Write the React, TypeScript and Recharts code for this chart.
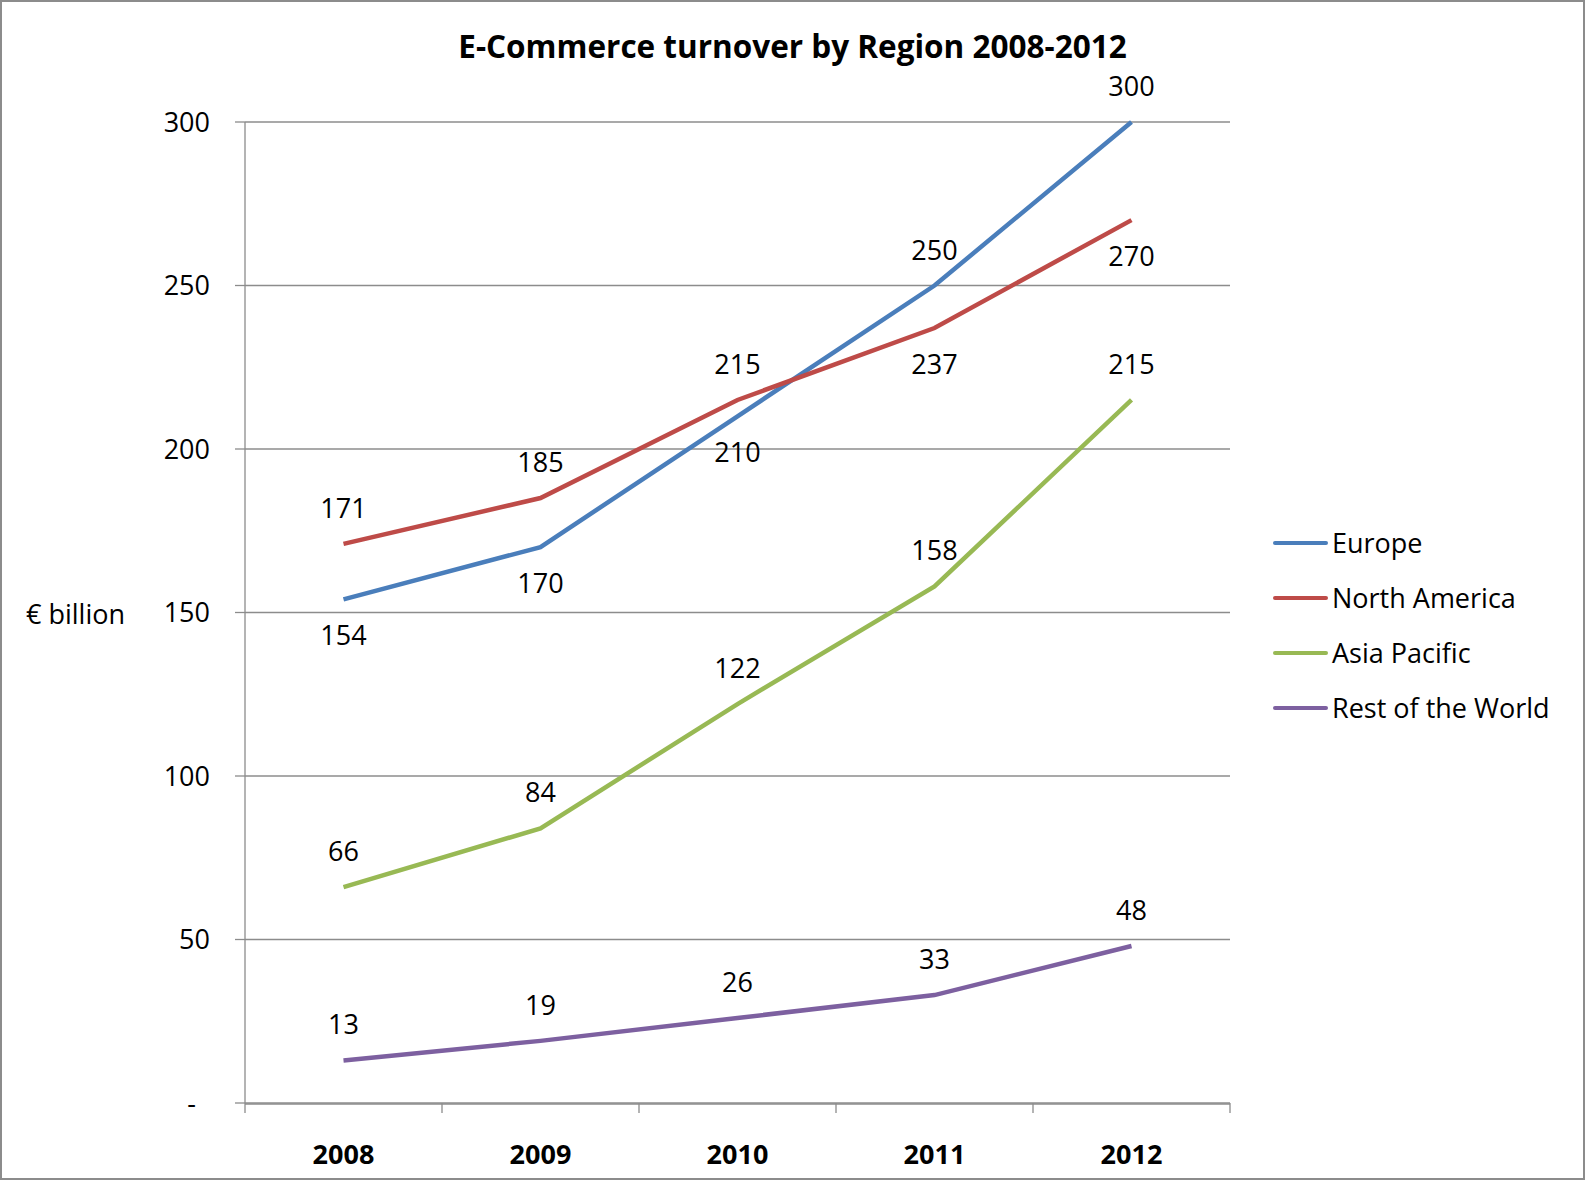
import { LineChart, Line, XAxis, YAxis, CartesianGrid, Legend, Label } from 'recharts';

const years = ['2008', '2009', '2010', '2011', '2012'];
const europe = [154, 170, 210, 250, 300];
const northAmerica = [171, 185, 215, 237, 270];
const asiaPacific = [66, 84, 122, 158, 215];
const restOfWorld = [13, 19, 26, 33, 48];
const yTicks = [0, 50, 100, 150, 200, 250, 300];
const bandEdges = [0, 1, 2, 3, 4, 5];

const data = years.map((year, i) => ({
  year,
  slot: i + 0.5, // middle of the year's band, used by the tick-mark axis
  europe: europe[i],
  northAmerica: northAmerica[i],
  asiaPacific: asiaPacific[i],
  restOfWorld: restOfWorld[i],
}));

const FONT = '"Open Sans", "Noto Sans", sans-serif';
const GREY = '#8c8c8c';

const series = [
  { key: 'europe', name: 'Europe', color: '#4A7EBB' },
  { key: 'northAmerica', name: 'North America', color: '#BE4B48' },
  { key: 'asiaPacific', name: 'Asia Pacific', color: '#98B954' },
  { key: 'restOfWorld', name: 'Rest of the World', color: '#7D60A0' },
];

// which points get their value label under the line (Excel put them there)
const labelsBelow: Record<string, number[]> = {
  europe: [0, 1, 2],
  northAmerica: [3, 4],
  asiaPacific: [],
  restOfWorld: [],
};

const valueLabel = (key: string) => (props: any) => {
  const { x, y, value, index } = props;
  const below = labelsBelow[key].includes(index);
  return (
    <text
      x={x}
      y={below ? y + 46 : y - 26}
      textAnchor="middle"
      fontFamily={FONT}
      fontSize={27}
      fill="#000"
    >
      {value}
    </text>
  );
};

function LegendBox({ payload }: any) {
  // recharts sorts legend items by name, keep the series order instead
  const order = series.map((s) => s.name);
  const items = [...(payload || [])].sort(
    (a: any, b: any) => order.indexOf(a.value) - order.indexOf(b.value)
  );
  return (
    <div style={{ display: 'flex', flexDirection: 'column' }}>
      {items.map((p: any) => (
        <div key={p.value} style={{ height: 55, display: 'flex', alignItems: 'center' }}>
          <span
            style={{ width: 55, height: 4, background: p.color, borderRadius: 2, marginRight: 4 }}
          />
          <span style={{ fontFamily: FONT, fontSize: 27, color: '#000', whiteSpace: 'nowrap' }}>
            {p.value}
          </span>
        </div>
      ))}
    </div>
  );
}

export default function App() {
  return (
    <div
      style={{
        position: 'absolute',
        left: 0,
        top: 0,
        width: 1585,
        height: 1180,
        boxSizing: 'border-box',
        border: `2px solid ${GREY}`,
        background: '#fff',
      }}
    >
      <div
        style={{
          position: 'absolute',
          left: 0,
          top: 24,
          width: 1581,
          height: 40,
          lineHeight: '40px',
          textAlign: 'center',
          fontFamily: FONT,
          fontWeight: 700,
          fontSize: 31.5,
          color: '#000',
        }}
      >
        E-Commerce turnover by Region 2008-2012
      </div>
      <LineChart
        width={1581}
        height={1176}
        data={data}
        margin={{ top: 120, right: 353, bottom: 73, left: 14 }}
      >
        <CartesianGrid vertical={false} stroke={GREY} strokeWidth={1.3} />
        {/* tick marks sit between the years, as in Excel */}
        <XAxis
          xAxisId="edges"
          dataKey="slot"
          type="number"
          domain={[0, 5]}
          allowDataOverflow
          ticks={bandEdges}
          height={1}
          axisLine={false}
          tickSize={10}
          tickLine={{ stroke: GREY, strokeWidth: 1.3 }}
          tickFormatter={() => ''}
        />
        <XAxis
          xAxisId="years"
          dataKey="year"
          scale="band"
          height={1}
          axisLine={{ stroke: GREY, strokeWidth: 1.3 }}
          tickLine={false}
          tickSize={0}
          tickMargin={41}
          tick={{ fontFamily: FONT, fontSize: 27, fontWeight: 700, fill: '#000' }}
        />
        <YAxis
          domain={[0, 300]}
          ticks={yTicks}
          width={229}
          axisLine={{ stroke: GREY, strokeWidth: 1.3 }}
          tickLine={{ stroke: GREY, strokeWidth: 1.3 }}
          tickSize={10}
          tickMargin={25}
          tick={{ fontFamily: FONT, fontSize: 27, fill: '#000' }}
          tickFormatter={(v) => (v === 0 ? '-\u00a0\u00a0' : String(v))}
        >
          <Label
            value="€ billion"
            position="insideLeft"
            offset={10}
            angle={0}
            dy={2}
            style={{ fontFamily: FONT, fontSize: 27, fill: '#000' }}
          />
        </YAxis>
        <Legend
          layout="horizontal"
          align="center"
          verticalAlign="middle"
          content={<LegendBox />}
          wrapperStyle={{ left: 1271, top: 513, width: 310 }}
        />
        {series.map((s) => (
          <Line
            key={s.key}
            xAxisId="years"
            type="linear"
            dataKey={s.key}
            name={s.name}
            stroke={s.color}
            strokeWidth={4.5}
            dot={false}
            activeDot={false}
            label={valueLabel(s.key)}
            isAnimationActive={false}
          />
        ))}
      </LineChart>
    </div>
  );
}
